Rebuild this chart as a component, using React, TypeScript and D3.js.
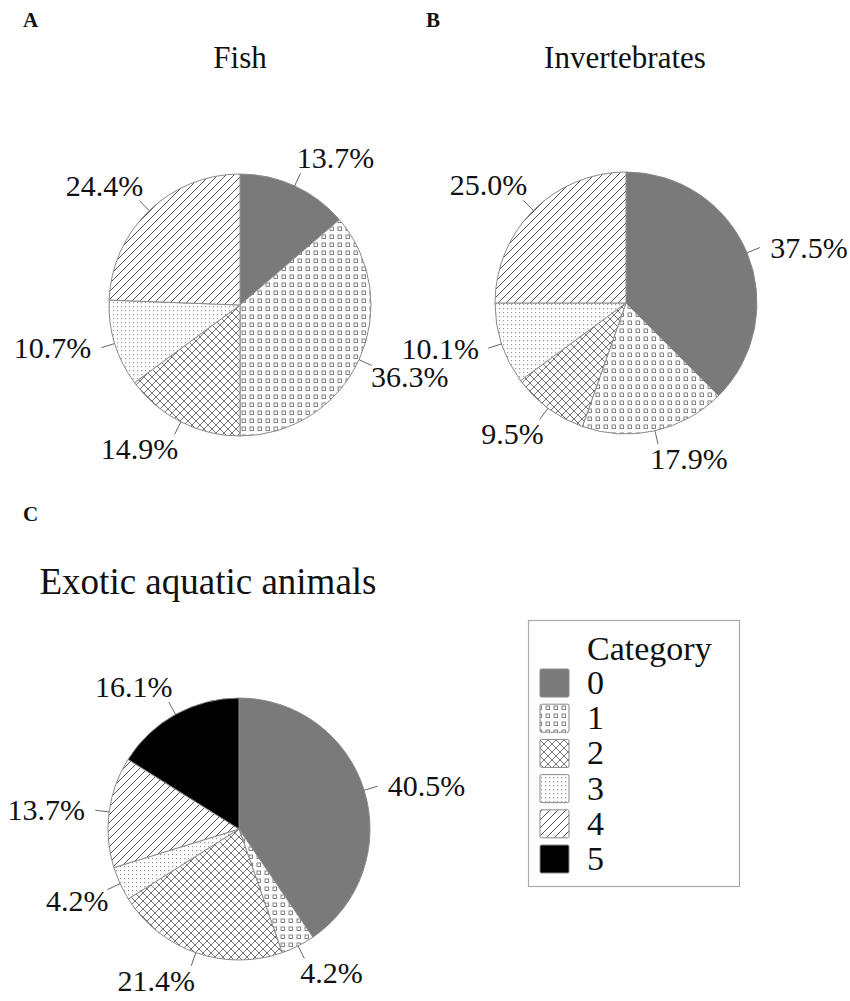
import React from "react";
import * as d3 from "d3";

const categories = ["0", "1", "2", "3", "4", "5"];
const fishValues = [13.7, 36.3, 14.9, 10.7, 24.4];
const invertebrateValues = [37.5, 17.9, 9.5, 10.1, 25.0];
const exoticValues = [40.5, 4.2, 21.4, 4.2, 13.7, 16.1];
const panelTitles = ["Fish", "Invertebrates", "Exotic aquatic animals"];
const panelLetters = ["A", "B", "C"];
const legendTitle = "Category";

const FONT = "'Liberation Serif', 'Times New Roman', serif";
const fills = ["#7a7a7a", "url(#pat1)", "url(#pat2)", "url(#pat3)", "url(#pat4)", "#000000"];

const R = 131;
const pie = d3.pie<number>().sort(null).value((d) => d);
const arc = d3.arc<d3.PieArcDatum<number>>().innerRadius(0).outerRadius(R);
const clamp = (v: number) => Math.max(-1, Math.min(1, v));
const clamp01 = (v: number) => Math.max(0, Math.min(1, v));

function Pie({ values, cx, cy }: { values: number[]; cx: number; cy: number }) {
  const arcs = pie(values);
  const fs = 30;
  return (
    <g transform={`translate(${cx},${cy})`}>
      {arcs.map((a, i) => (
        <path key={i} d={arc(a) || ""} fill={fills[i]} stroke="#8a8a8a" strokeWidth={1} />
      ))}
      {arcs.map((a, i) => {
        const mid = (a.startAngle + a.endAngle) / 2;
        const ux = Math.sin(mid);
        const uy = -Math.cos(mid);
        const x1 = ux * R, y1 = uy * R;
        const x2 = ux * (R + 14), y2 = uy * (R + 14);
        const label = `${values[i].toFixed(1)}%`;
        const w = label.length * 0.52 * fs;
        const h = 22;
        const sx = clamp(ux / 0.25);
        const sy = uy > 0 ? clamp01((uy - 0.3) / 0.15) : -clamp01((-uy - 0.4) / 0.3);
        const gx = 10 * (1 - Math.abs(sy)) - 4 * Math.abs(sy);
        const tx = x2 + sx * (w / 2 + gx);
        const ty = y2 + sy * (h / 2 + 4);
        return (
          <g key={"l" + i}>
            <line x1={x1} y1={y1} x2={x2} y2={y2} stroke="#666" strokeWidth={1} />
            <text x={tx} y={ty + 10} textAnchor="middle" fontFamily={FONT} fontSize={fs} fill="#111">
              {label}
            </text>
          </g>
        );
      })}
    </g>
  );
}

export default function App() {
  const sw = 29, sh = 28, lx = 540, ly0 = 669, lstep = 35.2;
  return (
    <svg width={850} height={1001} style={{ position: "absolute", left: 0, top: 0, background: "#fff" }}>
      <defs>
        <pattern id="pat1" patternUnits="userSpaceOnUse" width={8} height={8}>
          <rect width={8} height={8} fill="#fff" />
          <rect x={2} y={2} width={3.5} height={3.5} fill="none" stroke="#777" strokeWidth={0.9} />
        </pattern>
        <pattern id="pat2" patternUnits="userSpaceOnUse" width={8} height={8}>
          <rect width={8} height={8} fill="#fff" />
          <path d="M0,0 L8,8 M-1,7 L1,9 M7,-1 L9,1 M8,0 L0,8 M-1,1 L1,-1 M7,9 L9,7" stroke="#666" strokeWidth={0.9} />
        </pattern>
        <pattern id="pat3" patternUnits="userSpaceOnUse" width={4} height={4}>
          <rect width={4} height={4} fill="#fff" />
          <rect x={1} y={1} width={1.2} height={1.2} fill="#999" />
        </pattern>
        <pattern id="pat4" patternUnits="userSpaceOnUse" width={8} height={8}>
          <rect width={8} height={8} fill="#fff" />
          <path d="M0,8 L8,0 M-2,2 L2,-2 M6,10 L10,6" stroke="#555" strokeWidth={1} />
        </pattern>
      </defs>

      <text x={23} y={27} fontFamily={FONT} fontWeight="bold" fontSize={21} fill="#111">{panelLetters[0]}</text>
      <text x={426} y={27} fontFamily={FONT} fontWeight="bold" fontSize={21} fill="#111">{panelLetters[1]}</text>
      <text x={23} y={521} fontFamily={FONT} fontWeight="bold" fontSize={21} fill="#111">{panelLetters[2]}</text>

      <text x={240} y={68} textAnchor="middle" fontFamily={FONT} fontSize={31} fill="#111">{panelTitles[0]}</text>
      <text x={625} y={68} textAnchor="middle" fontFamily={FONT} fontSize={31} fill="#111">{panelTitles[1]}</text>
      <text x={208} y={594} textAnchor="middle" fontFamily={FONT} fontSize={37} fill="#111">{panelTitles[2]}</text>

      <Pie values={fishValues} cx={240} cy={305} />
      <Pie values={invertebrateValues} cx={626} cy={303} />
      <Pie values={exoticValues} cx={239} cy={829} />

      <rect x={528.5} y={620.5} width={211} height={266} fill="#fff" stroke="#aaa" strokeWidth={1.2} />
      <text x={587} y={660} fontFamily={FONT} fontSize={34} fill="#111">{legendTitle}</text>
      {categories.map((c, i) => (
        <g key={c}>
          <rect x={lx} y={ly0 + i * lstep} width={sw} height={sh} rx={1.5} fill={fills[i]} stroke="#888" strokeWidth={1} />
          <text x={587} y={ly0 + i * lstep + sh / 2 + 11} fontFamily={FONT} fontSize={34} fill="#111">{c}</text>
        </g>
      ))}
    </svg>
  );
}
